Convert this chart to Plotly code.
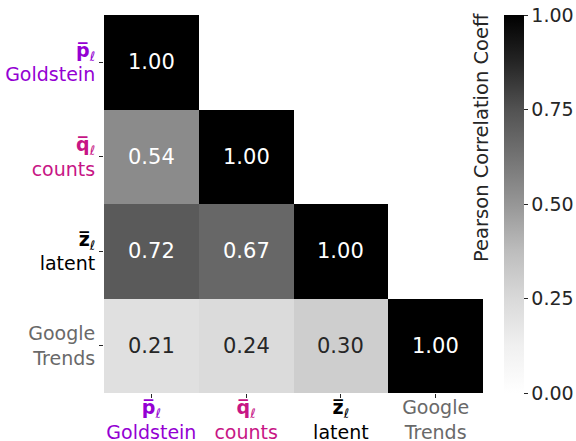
import plotly.graph_objects as go

# Variables and their lower-triangular Pearson correlation matrix
names = ["Goldstein", "counts", "latent", "Google Trends"]
symbols = ["p", "q", "z", None]
label_colors = ["#9400d3", "#c71585", "#000000", "#696969"]
corr = [
    [1.00, None, None, None],
    [0.54, 1.00, None, None],
    [0.72, 0.67, 1.00, None],
    [0.21, 0.24, 0.30, 1.00],
]
cbar_ticks = [0.00, 0.25, 0.50, 0.75, 1.00]


def make_label(sym, name, color):
    if sym is None:
        body = name.replace(" ", "<br>")
    else:
        body = f"<b>{sym}\u0305</b><sub>\u2113</sub><br>{name}"
    return f"<span style='color:{color}'>{body}</span>"


labels = [make_label(s, n, c) for s, n, c in zip(symbols, names, label_colors)]

# matplotlib-style "Greys" colormap
greys = ["#ffffff", "#f0f0f0", "#d9d9d9", "#bdbdbd", "#969696",
         "#737373", "#525252", "#252525", "#000000"]
colorscale = [[i / 8, c] for i, c in enumerate(greys)]

FONT = "DejaVu Sans"
TEXT = "#262626"

fig = go.Figure()
fig.add_trace(go.Heatmap(
    z=corr,
    x=labels,
    y=labels,
    zmin=0, zmax=1,
    colorscale=colorscale,
    xgap=0, ygap=0,
    hoverongaps=False,
    colorbar=dict(
        x=1.055, xanchor="left", xref="paper",
        y=0.5, yanchor="middle", len=1.0, lenmode="fraction",
        thickness=20, outlinewidth=0, xpad=0, ypad=0,
        tickvals=cbar_ticks,
        ticktext=[f"{v:.2f}" for v in cbar_ticks],
        ticks="outside", ticklen=4, tickwidth=1, tickcolor=TEXT,
        tickfont=dict(family=FONT, size=19, color=TEXT),
    ),
))

# Cell value labels
for i, row in enumerate(corr):
    for j, v in enumerate(row):
        if v is None:
            continue
        fig.add_annotation(
            x=labels[j], y=labels[i], text=f"{v:.2f}", showarrow=False,
            font=dict(family=FONT, size=21, color="#ffffff" if v > 0.45 else TEXT),
        )

# Colorbar label, placed to the left of the bar
fig.add_annotation(
    x=0.996, xref="paper", y=0.676, yref="paper",
    text="Pearson Correlation Coeff", textangle=-90, showarrow=False,
    xanchor="center", yanchor="middle",
    font=dict(family=FONT, size=19.5, color=TEXT),
)

fig.update_xaxes(
    ticks="outside", ticklen=4, tickcolor=TEXT, showgrid=False, zeroline=False,
    tickfont=dict(family=FONT, size=19), showline=False, automargin=False,
    ticklabelstandoff=-7,
)
fig.update_yaxes(
    autorange="reversed", ticks="outside", ticklen=4, tickcolor=TEXT,
    showgrid=False, zeroline=False, showline=False, automargin=False,
    tickfont=dict(family=FONT, size=19),
)
fig.update_layout(
    width=576, height=441,
    margin=dict(l=104, r=93, t=15, b=48, autoexpand=False),
    plot_bgcolor="white", paper_bgcolor="white",
    font=dict(family=FONT, color=TEXT),
)
fig.write_html("out.html")
